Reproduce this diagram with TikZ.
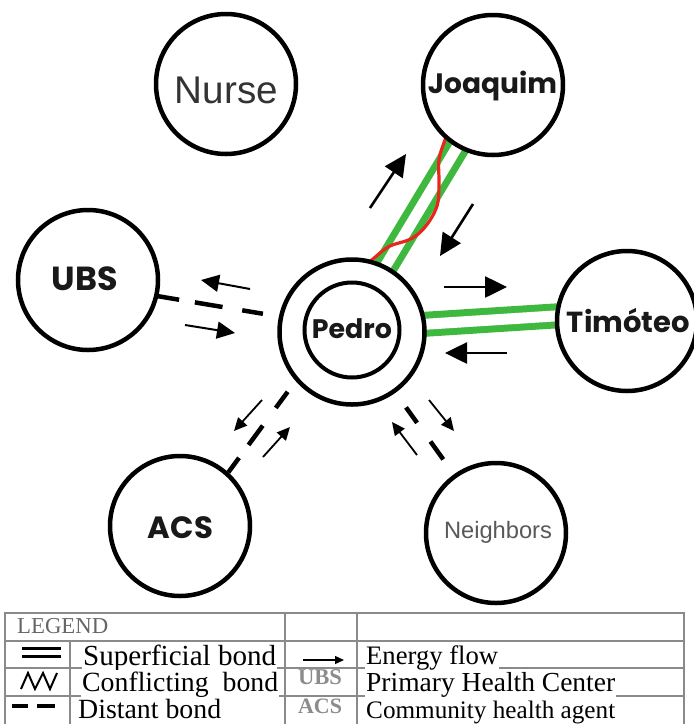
\documentclass[tikz,border=0pt]{standalone}
\usepackage{fontspec}
\usepackage{graphicx}
\setmainfont{Liberation Serif}
\newfontfamily\geo{Poppins}
\newfontfamily\ari{Liberation Sans}
\usetikzlibrary{arrows.meta,calc}
\pgfdeclarelayer{bg}
\pgfsetlayers{bg,main}
\definecolor{bondgreen}{HTML}{3FB83F}
\definecolor{bondred}{HTML}{E8261C}
\definecolor{tabgray}{HTML}{8A8A8A}
\newcommand{\fitw}[2]{\resizebox{#1}{!}{#2}}
\begin{document}
\begin{tikzpicture}[x=1pt,y=-1pt,
  person/.style={circle,draw=black,line width=4.5pt,fill=white,inner sep=0pt,minimum size=140pt},
  lab/.style={anchor=base,inner sep=0pt},
  superficial/.style={draw=bondgreen,line width=7pt,double=white,double distance=11pt,shorten <=-4pt,shorten >=-4pt},
  conflict/.style={draw=bondred,line width=3.2pt},
  distant/.style={draw=black,line width=4.5pt},
  flowbig/.style={line width=2.6pt,-{Triangle[length=22pt,width=21pt]}},
  flowmid/.style={line width=2pt,-{Triangle[length=18pt,width=17pt]}},
  flowsmall/.style={line width=1.8pt,-{Triangle[length=13pt,width=12pt]}},
  tabline/.style={draw=tabgray,line width=1.8pt},
  legtext/.style={anchor=base west,inner sep=1pt,fill=white}]
\useasboundingbox (0,0) rectangle (694,724);

% persons
\node[person] (nurse) at (226,84) {};
\node[person] (joaquim) at (493,85) {};
\node[person] (ubs) at (88,280) {};
\node[person,minimum size=145pt] (pedro) at (352,332) {};
\node[circle,draw=black,line width=4pt,inner sep=0pt,minimum size=95pt] (pedroin) at (352,330) {};
\node[person] (tim) at (627,321) {};
\node[person] (acs) at (180,526) {};
\node[person] (neigh) at (496,533) {};

% labels
\node[lab,text=black!80] at (226.5,103) {\ari\fitw{103pt}{Nurse}};
\node[lab,text=black!90] at (492.5,93) {\geo\bfseries\fitw{129pt}{Joaquim}};
\node[lab,text=black!90] at (85,290) {\geo\bfseries\fitw{66pt}{UBS}};
\node[lab,text=black!90] at (352,338) {\geo\bfseries\fitw{80pt}{Pedro}};
\node[lab,text=black!90] at (628.5,332) {\geo\bfseries\fitw{123pt}{Timóteo}};
\node[lab,text=black!90] at (180.5,538) {\geo\bfseries\fitw{65pt}{ACS}};
\node[lab,text=black!65] at (498,538) {\ari\fitw{108pt}{Neighbors}};

% bonds
\begin{pgfonlayer}{bg}
\draw[superficial] (pedro.63) -- (joaquim.240);
\draw[superficial] (pedro.6) -- (tim.176);
\begin{scope}[shift={(pedro.63)},rotate=59]
\draw[conflict] plot[smooth,tension=0.6] coordinates {(-6,-16) (0,-14) (18,-7) (36,8) (55,14) (78,13) (98,3) (118,-9) (138,-14) (144,-15)};
\end{scope}
\draw[distant,dash pattern=on 25pt off 16pt on 28pt off 20pt on 21pt off 300pt,shorten <=-4pt] (ubs.-13) -- (pedro.168);
\draw[distant,dash pattern=on 18pt off 16pt on 24pt off 22pt on 20pt off 300pt] (acs.48) -- (pedro.221);
\draw[distant,dash pattern=on 0pt off 18pt on 19pt off 23pt on 22pt off 300pt] (pedro) -- (neigh);
\end{pgfonlayer}

% energy flows
\coordinate (a1s) at (370,208); \coordinate (a1e) at (406,154);
\coordinate (a2s) at (473,204); \coordinate (a2e) at (440,256);
\coordinate (a3s) at (444,287); \coordinate (a3e) at (507,287);
\coordinate (a4s) at (507,353); \coordinate (a4e) at (445,353);
\coordinate (a5s) at (250,289); \coordinate (a5e) at (201,280);
\coordinate (a6s) at (185,325); \coordinate (a6e) at (235,333);
\coordinate (a7s) at (262,400); \coordinate (a7e) at (234,431);
\coordinate (a8s) at (263,457); \coordinate (a8e) at (290,427);
\coordinate (a9s) at (417,455); \coordinate (a9e) at (392,422);
\coordinate (a10s) at (429,400); \coordinate (a10e) at (454,431);
\draw[flowbig] (a1s) -- (a1e);
\draw[flowbig] (a2s) -- (a2e);
\draw[flowbig] (a3s) -- (a3e);
\draw[flowbig] (a4s) -- (a4e);
\draw[flowmid] (a5s) -- (a5e);
\draw[flowmid] (a6s) -- (a6e);
\draw[flowsmall] (a7s) -- (a7e);
\draw[flowsmall] (a8s) -- (a8e);
\draw[flowsmall] (a9s) -- (a9e);
\draw[flowsmall] (a10s) -- (a10e);

% legend table
\draw[tabline] (5,724) -- (5,613) -- (684,613) -- (684,724);
\draw[tabline] (5,641) -- (684,641);
\draw[tabline] (5,668) -- (684,668);
\draw[tabline] (5,696) -- (684,696);
\draw[tabline] (70,641) -- (70,724);
\draw[tabline] (285,613) -- (285,724);
\draw[tabline] (357,613) -- (357,724);

\node[anchor=base west,inner sep=0pt,text=black!60] at (17,633) {\fitw{91pt}{LEGEND}};
\node[legtext] at (82,665) {\fitw{193pt}{Superficial bond}};
\node[legtext] at (81,691) {\fitw{196pt}{Conflicting\ \ bond}};
\node[legtext] at (77,718) {\fitw{143pt}{Distant bond}};
\node[legtext] at (365,664) {\fitw{132pt}{Energy flow}};
\node[legtext] at (365,691) {\fitw{249pt}{Primary Health Center}};
\node[legtext] at (365,718) {\fitw{249pt}{Community health agent}};

\draw[line width=3.2pt,double=white,double distance=5pt] (22,652.5) -- (61,652.5);
\draw[line width=2pt,line join=miter] (21,689) -- (28,673) -- (35,689) -- (43,673) -- (50,689) -- (57,673);
\draw[line width=4pt] (12,706) -- (28,706) (37,706) -- (55,706);
\draw[line width=1.3pt,-{Triangle[length=9pt,width=8pt]}] (303,660) -- (344,660);
\node[anchor=base,inner sep=0pt,text=black!45] at (320,684) {\bfseries\fitw{44pt}{UBS}};
\node[anchor=base,inner sep=0pt,text=black!45] at (320,713) {\bfseries\fitw{44pt}{ACS}};
\end{tikzpicture}
\end{document}
